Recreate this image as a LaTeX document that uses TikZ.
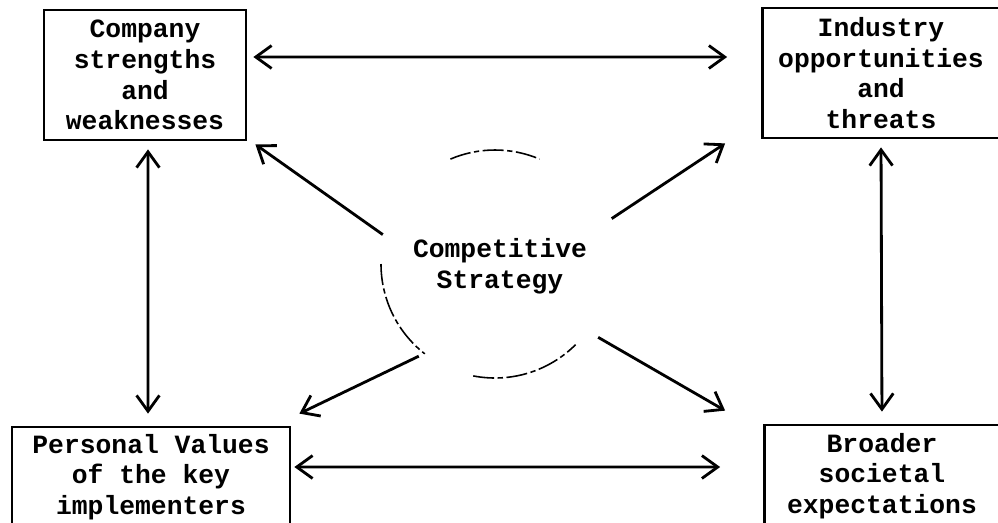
\documentclass[tikz,border=0pt]{standalone}
\usepackage{fontspec}
\setmonofont{Liberation Mono}
\usetikzlibrary{arrows.meta,positioning,calc}

\begin{document}
\begin{tikzpicture}[x=0.02cm,y=-0.02cm,>={Straight Barb[length=9pt,width=13pt]},
  box/.style={draw,line width=1.6pt,inner sep=0pt,align=center,font=\ttfamily\bfseries\fontsize{15}{17.5}\selectfont},
  link/.style={<->,line width=1.6pt},
  ray/.style={->,line width=1.6pt},
  ring/.style={line width=0.9pt,dash pattern=on 12pt off 2pt on 3pt off 2pt}]
 \clip (0,0) rectangle (998,522);
 \node[box,minimum width=4.04cm,minimum height=2.6cm] (comp) at (145,75) {Company\\strengths\\and\\weaknesses};
 \node[box,minimum width=4.74cm,minimum height=2.6cm] (ind) at (881,73) {Industry\\opportunities\\and\\threats};
 \node[box,minimum width=5.56cm,minimum height=2cm] (pers) at (151,477) {Personal Values\\of the key\\implementers};
 \node[box,minimum width=4.7cm,minimum height=2.04cm] (broad) at (882,476) {Broader\\societal\\expectations};
 \node[circle,minimum size=4.84cm,align=center,font=\ttfamily\bfseries\fontsize{15}{17.5}\selectfont] (cs) at (500,266) {Competitive\\Strategy};
 % broken ring round the strategy
 \coordinate (o) at (495,264);
 \draw[ring] (o) ++(-113:114) arc[start angle=-113,end angle=-67,radius=114];
 \draw[ring] (o) ++(180:114) arc[start angle=180,end angle=128,radius=114];
 \draw[ring] (o) ++(101:114) arc[start angle=101,end angle=45,radius=114];
 \draw[link,shorten <=0.12cm,shorten >=0.68cm] ([yshift=0.36cm]comp.east) -- ([yshift=0.32cm]ind.west);
 \draw[link,shorten <=0.06cm,shorten >=0.86cm] ([yshift=0.2cm]pers.east) -- ([yshift=0.18cm]broad.west);
 \draw[link,shorten <=0.16cm,shorten >=0.24cm] ([xshift=0.06cm]comp.south) -- ([xshift=-0.06cm]pers.north);
 \draw[link,shorten <=0.16cm,shorten >=0.24cm] (ind.south) -- (broad.north);
 \draw[ray] (cs.165) -- ([xshift=0.16cm,yshift=-0.06cm]comp.south east);
 \draw[ray] (cs.23) -- ([xshift=-0.72cm,yshift=-0.08cm]ind.south west);
 \draw[ray] (cs.228) -- ([xshift=0.16cm,yshift=0.24cm]pers.north east);
 \draw[ray] (cs.324) -- ([xshift=-0.76cm,yshift=0.26cm]broad.north west);
\end{tikzpicture}
\end{document}
